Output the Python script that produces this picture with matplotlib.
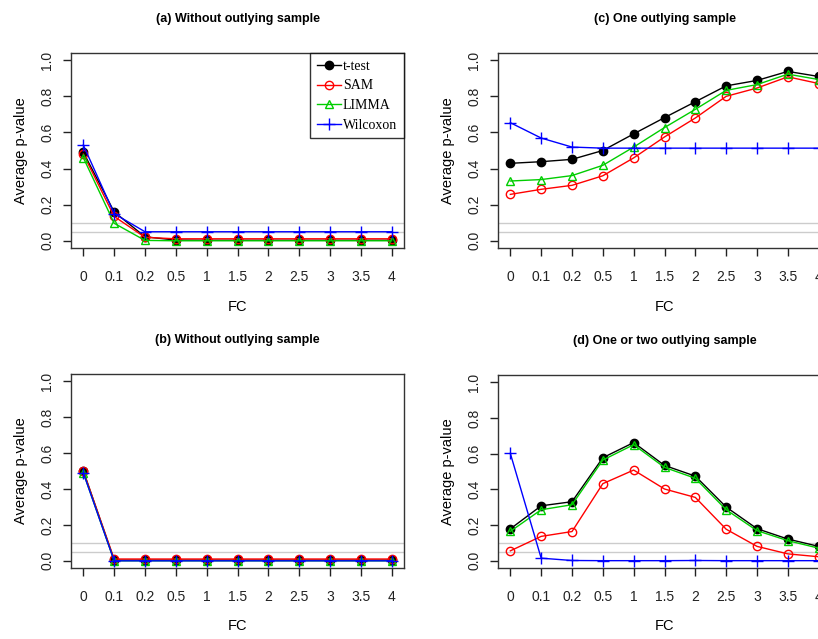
import matplotlib
matplotlib.use("Agg")
import matplotlib.pyplot as plt
import numpy as np

# FC levels (plotted at equal spacing) and average p-values
fc_labels = ["0", "0.1", "0.2", "0.5", "1", "1.5", "2", "2.5", "3", "3.5", "4"]

a_ttest = [0.49, 0.16, 0.022, 0.004, 0.003, 0.003, 0.003, 0.003, 0.003, 0.003, 0.003]
a_sam = [0.48, 0.135, 0.019, 0.011, 0.011, 0.011, 0.011, 0.011, 0.011, 0.011, 0.011]
a_limma = [0.46, 0.097, 0.002, 0.0, 0.0, 0.0, 0.0, 0.0, 0.0, 0.0, 0.0]
a_wilcox = [0.53, 0.15, 0.05, 0.05, 0.05, 0.05, 0.05, 0.05, 0.05, 0.05, 0.05]

b_ttest = [0.50, 0.004, 0.004, 0.004, 0.004, 0.004, 0.004, 0.004, 0.004, 0.004, 0.004]
b_sam = [0.50, 0.010, 0.010, 0.010, 0.010, 0.010, 0.010, 0.010, 0.010, 0.010, 0.010]
b_limma = [0.49, 0.0, 0.0, 0.0, 0.0, 0.0, 0.0, 0.0, 0.0, 0.0, 0.0]
b_wilcox = [0.49, 0.0, 0.0, 0.0, 0.0, 0.0, 0.0, 0.0, 0.0, 0.0, 0.0]

c_ttest = [0.429, 0.438, 0.451, 0.50, 0.592, 0.682, 0.770, 0.858, 0.888, 0.938, 0.91]
c_sam = [0.257, 0.285, 0.307, 0.36, 0.459, 0.575, 0.680, 0.80, 0.846, 0.908, 0.871]
c_limma = [0.331, 0.339, 0.361, 0.418, 0.519, 0.627, 0.728, 0.833, 0.865, 0.923, 0.893]
c_wilcox = [0.654, 0.569, 0.519, 0.513, 0.513, 0.513, 0.513, 0.513, 0.513, 0.513, 0.513]

d_ttest = [0.179, 0.308, 0.331, 0.577, 0.662, 0.534, 0.474, 0.301, 0.180, 0.122, 0.081]
d_sam = [0.056, 0.137, 0.164, 0.432, 0.508, 0.402, 0.355, 0.177, 0.081, 0.039, 0.023]
d_limma = [0.165, 0.286, 0.314, 0.564, 0.650, 0.523, 0.462, 0.286, 0.169, 0.113, 0.071]
d_wilcox = [0.601, 0.015, 0.002, 0.001, 0.001, 0.001, 0.002, 0.001, 0.001, 0.001, 0.001]

panels = [
    ("(a) Without outlying sample", [a_ttest, a_sam, a_limma, a_wilcox]),
    ("(c) One outlying sample", [c_ttest, c_sam, c_limma, c_wilcox]),
    ("(b) Without outlying sample", [b_ttest, b_sam, b_limma, b_wilcox]),
    ("(d) One or two outlying sample", [d_ttest, d_sam, d_limma, d_wilcox]),
]

names = ["t-test", "SAM", "LIMMA", "Wilcoxon"]
colors = ["black", "#FF0000", "#00CD00", "#0000FF"]
markers = ["o", "o", "^", "+"]
faces = ["black", "none", "none", "none"]

plt.rcParams["font.family"] = ["Liberation Sans", "DejaVu Sans"]

fig = plt.figure(figsize=(8.18, 6.39), dpi=100)
W, H = 818, 639
# axes boxes in pixels: left, top, width, height
boxes = [(71, 53, 333, 195), (498, 53, 333, 195), (71, 374, 333, 194), (498, 375, 333, 193)]

x = np.arange(len(fc_labels))
for (title, series), (l, t, w, h) in zip(panels, boxes):
    ax = fig.add_axes([l / W, 1 - (t + h) / H, w / W, h / H])
    ax.axhline(0.05, color="#cccccc", lw=1.0, zorder=1)
    ax.axhline(0.1, color="#cccccc", lw=1.0, zorder=1)
    for vals, name, c, m, fcol in zip(series, names, colors, markers, faces):
        ax.plot(x, vals, color=c, marker=m, markerfacecolor=fcol, markeredgecolor=c,
                markersize=6 if m != "+" else 9, markeredgewidth=1.0, lw=1.0,
                label=name, zorder=3)
    ax.set_xlim(-0.4, 10.4)
    ax.set_ylim(-0.04, 1.04)
    ax.set_xticks(x)
    ax.set_xticklabels(fc_labels)
    ax.set_yticks([0, 0.2, 0.4, 0.6, 0.8, 1.0])
    ax.set_yticklabels(["0.0", "0.2", "0.4", "0.6", "0.8", "1.0"], rotation=90, va="center")
    ax.tick_params(direction="out", length=6, width=1, labelsize=10, colors="#222222")
    ax.tick_params(axis="x", pad=10)
    ax.tick_params(axis="y", pad=6)
    for s in ax.spines.values():
        s.set_linewidth(1.0)
        s.set_color("#333333")
    ax.set_title(title, fontsize=9, fontweight="bold", pad=22)
    ax.set_xlabel("FC", fontsize=10.5, labelpad=11)
    ax.set_ylabel("Average p-value", fontsize=10.5, labelpad=9)
    if title.startswith("(a)"):
        leg = ax.legend(loc="upper right", frameon=True, fancybox=False,
                        prop={"family": "Liberation Serif", "size": 10},
                        handlelength=1.7, borderaxespad=0.0, labelspacing=0.47,
                        handletextpad=0.15, borderpad=0.5)
        leg.get_frame().set_edgecolor("black")
        leg.get_frame().set_linewidth(1.0)

fig.savefig("out.png", dpi=100)
